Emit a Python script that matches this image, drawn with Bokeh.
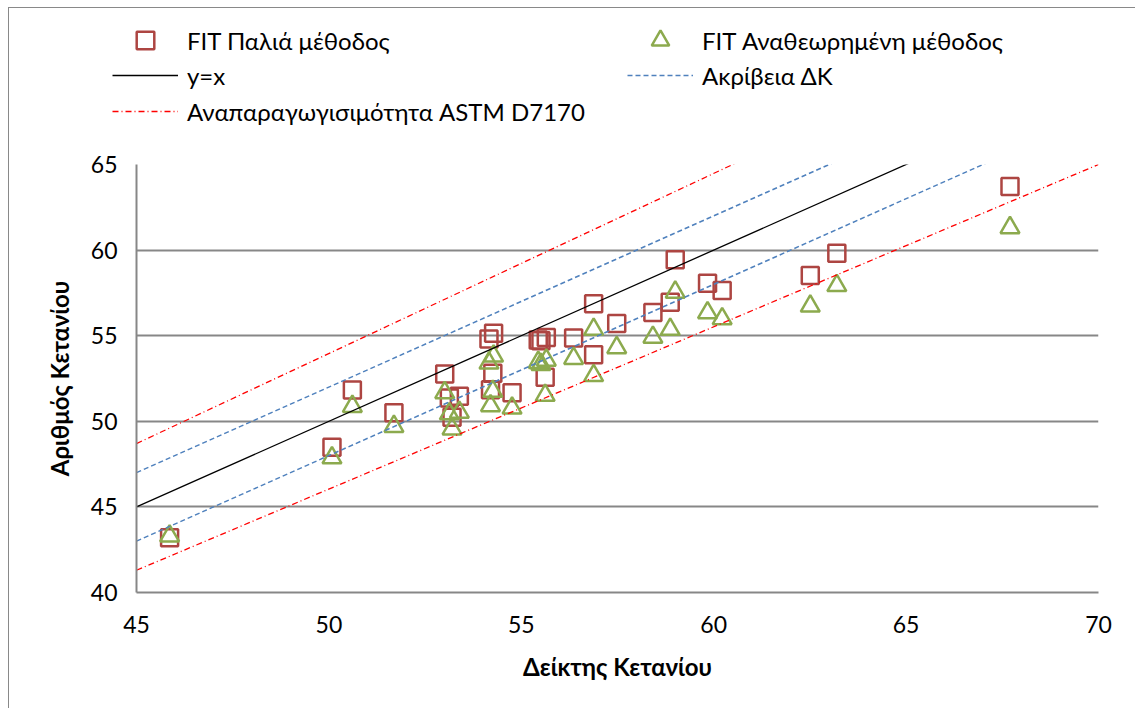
from bokeh.plotting import figure
from bokeh.layouts import column
from bokeh.models import ColumnDataSource, Legend, LegendItem, Range1d, FixedTicker
from bokeh.embed import file_html
from bokeh.resources import INLINE

# Cetane index (x) and cetane number by the two FIT methods (y)
cetane_index = [45.86, 50.08, 50.61, 51.69, 53.01, 53.13, 53.39, 53.20, 54.16, 54.28,
                54.26, 54.20, 54.76, 55.44, 55.51, 55.65, 55.62, 56.36, 56.88, 56.88,
                57.48, 58.42, 58.87, 59.00, 59.84, 60.22, 62.51, 63.20, 67.70]
cn_old_method = [43.20, 48.48, 51.83, 50.50, 52.77, 51.36, 51.47, 50.23, 54.81, 55.14,
                 52.81, 51.85, 51.67, 54.75, 54.71, 54.89, 52.57, 54.87, 56.86, 53.89,
                 55.71, 56.35, 56.95, 59.43, 58.06, 57.64, 58.51, 59.82, 63.71]
cn_revised_method = [43.30, 47.87, 50.87, 49.70, 51.67, 50.44, 50.53, 49.55, 53.40, 53.81,
                     51.75, 50.91, 50.77, 53.44, 53.32, 53.57, 51.52, 53.67, 55.37, 52.67,
                     54.30, 54.91, 55.37, 57.54, 56.34, 55.99, 56.73, 57.93, 61.31]

# Reference lines (end points)
ref_x = [45, 70]
identity_y = [45, 70]
accuracy_upper = [47.0, 72.0]
accuracy_lower = [43.0, 68.0]
repro_upper = [48.7, 75.0]
repro_lower = [41.3, 65.0]

x_ticks = [45, 50, 55, 60, 65, 70]
y_ticks = [40, 45, 50, 55, 60, 65]

FONT = "Lato"
TXT = "23px"
LEG_TXT = "24px"
TITLE = "24px"
GRID = "#878787"
OLD_C = "#AD4542"
NEW_C = "#8CAA4E"
ACC_C = "#4F81BD"
REP_C = "#FF0000"

SQ = dict(marker="square", size=17, fill_color=None, line_color=OLD_C, line_width=2.5)
TRI = dict(marker="triangle", size=19, fill_color=None, line_color=NEW_C, line_width=2.5)
YX = dict(line_color="black", line_width=1.3)
ACC = dict(line_color=ACC_C, line_width=1.5, line_dash="5 3")
REP = dict(line_color=REP_C, line_width=1.3, line_dash="6 3 1 3")

pts = ColumnDataSource(dict(ci=cetane_index, old=cn_old_method, new=cn_revised_method))
lines = ColumnDataSource(dict(x=ref_x, yx=identity_y, au=accuracy_upper, al=accuracy_lower,
                              ru=repro_upper, rl=repro_lower))

# ---- main scatter plot ----
p = figure(width=1126, height=564, x_range=Range1d(45, 70), y_range=Range1d(40, 65),
           output_backend="svg", toolbar_location=None,
           min_border_left=127, min_border_right=37, min_border_top=20, min_border_bottom=116)
p.frame_align = False
p.outline_line_color = None
p.xgrid.visible = False
p.ygrid.grid_line_color = GRID
p.ygrid.grid_line_width = 2

for ax in (p.xaxis[0], p.yaxis[0]):
    ax.axis_line_color = GRID
    ax.axis_line_width = 2
    ax.major_tick_line_color = None
    ax.minor_tick_line_color = None
    ax.major_label_text_font = FONT
    ax.major_label_text_font_size = TXT
    ax.major_label_text_color = "black"
    ax.axis_label_text_font = FONT
    ax.axis_label_text_font_size = TITLE
    ax.axis_label_text_font_style = "bold"
    ax.axis_label_text_color = "black"

p.xaxis.ticker = FixedTicker(ticks=x_ticks)
p.yaxis.ticker = FixedTicker(ticks=y_ticks)
p.xaxis.axis_label = "Δείκτης Κετανίου"
p.yaxis.axis_label = "Αριθμός Κετανίου"
p.xaxis.major_label_standoff = 17
p.xaxis.axis_label_standoff = 16
p.yaxis.major_label_standoff = 13
p.yaxis.axis_label_standoff = 14

p.scatter("ci", "old", source=pts, **SQ)
p.scatter("ci", "new", source=pts, **TRI)
p.line("x", "yx", source=lines, **YX)
p.line("x", "au", source=lines, **ACC)
p.line("x", "al", source=lines, **ACC)
p.line("x", "ru", source=lines, **REP)
p.line("x", "rl", source=lines, **REP)

# ---- legend strip above the plot ----
# key renderers share the chart data but sit outside this strip's 0..1 ranges
lg = figure(width=1126, height=136, x_range=Range1d(0, 1), y_range=Range1d(0, 1),
            output_backend="svg", toolbar_location=None,
            x_axis_location=None, y_axis_location=None, min_border=0)
lg.frame_align = False
lg.outline_line_color = None
lg.grid.visible = False

k_old = lg.scatter("ci", "old", source=pts, **SQ)
k_new = lg.scatter("ci", "new", source=pts, **TRI)
k_yx = lg.line("x", "yx", source=lines, **YX)
k_acc = lg.line("x", "au", source=lines, **ACC)
k_rep = lg.line("x", "ru", source=lines, **REP)


def add_entry(label, renderer, loc):
    leg = Legend(items=[LegendItem(label=label, renderers=[renderer])], location=loc,
                 glyph_width=66, glyph_height=44, label_height=44, label_standoff=9,
                 spacing=0, padding=0, margin=0,
                 label_text_font=FONT, label_text_font_size=LEG_TXT, label_text_color="black",
                 border_line_color=None, background_fill_alpha=0)
    lg.add_layout(leg)


# three legend rows near the top of the strip
add_entry("FIT Παλιά μέθοδος", k_old, (103, 82))
add_entry("y=x", k_yx, (103, 47))
add_entry("Αναπαραγωγισιμότητα ASTM D7170", k_rep, (103, 11))
add_entry("FIT Αναθεωρημένη μέθοδος", k_new, (618, 82))
add_entry("Ακρίβεια ΔΚ", k_acc, (618, 47))

page = column(lg, p, spacing=0)
page.margin = (7, 0, 0, 8)
page.styles = {"border-left": "1px solid #898989", "border-top": "1px solid #898989"}

open("out.html", "w").write(file_html(page, INLINE))
